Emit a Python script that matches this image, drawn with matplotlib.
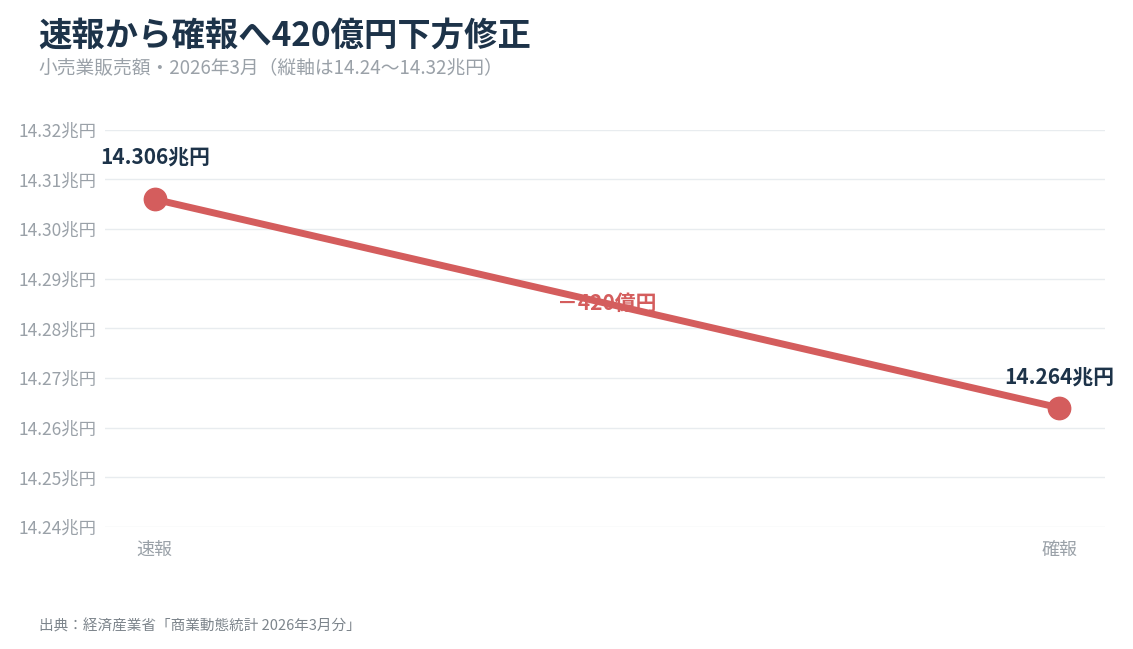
import matplotlib
matplotlib.use("Agg")
import matplotlib.pyplot as plt

plt.rcParams['font.family'] = ['Noto Sans CJK JP', 'DejaVu Sans']

stages = ['速報', '確報']
values = [14.306, 14.264]
value_labels = ['14.306兆円', '14.264兆円']
yticks = [14.24, 14.25, 14.26, 14.27, 14.28, 14.29, 14.30, 14.31, 14.32]
diff_label = '－420億円'

red = '#d45d5d'
navy = '#1d3349'
gray = '#9aa1a8'

fig = plt.figure(figsize=(11.33, 6.49), dpi=100)
ax = fig.add_axes([0.0927, 0.188, 0.8823, 0.612])

x = list(range(len(stages)))
ax.plot(x, values, color=red, lw=5, zorder=3, solid_capstyle='round')
ax.scatter(x, values, s=260, color=red, zorder=4)

ax.annotate(value_labels[0], (x[0], values[0]), xytext=(0, 22), textcoords='offset points',
            ha='center', va='bottom', fontsize=15, fontweight='bold', color=navy)
ax.annotate(value_labels[1], (x[1], values[1]), xytext=(0, 14), textcoords='offset points',
            ha='center', va='bottom', fontsize=15, fontweight='bold', color=navy)
ax.text(0.5, (values[0] + values[1]) / 2, diff_label, ha='center', va='center',
        fontsize=15, fontweight='bold', color=red, zorder=5)

ax.set_xlim(-0.055, 1.05)
ax.set_ylim(14.24, 14.32)
ax.set_yticks(yticks)
ax.set_yticklabels([f'{v:.2f}兆円' for v in yticks], fontsize=12.5, color=gray)
ax.set_xticks(x)
ax.set_xticklabels(stages, fontsize=13, color=gray)
ax.tick_params(length=0, pad=6)
ax.tick_params(axis='x', pad=10)
ax.grid(axis='y', color='#e8ecef', lw=1)
for s in ax.spines.values():
    s.set_visible(False)

fig.text(0.034, 0.945, '速報から確報へ420億円下方修正', fontsize=24, fontweight='bold',
         color=navy, va='center')
fig.text(0.034, 0.895, '小売業販売額・2026年3月（縦軸は14.24～14.32兆円）', fontsize=13.5,
         color=gray, va='center')
fig.text(0.034, 0.035, '出典：経済産業省「商業動態統計 2026年3月分」', fontsize=10.5,
         color='#7d858c', va='center')

fig.savefig('out.png', dpi=100)
